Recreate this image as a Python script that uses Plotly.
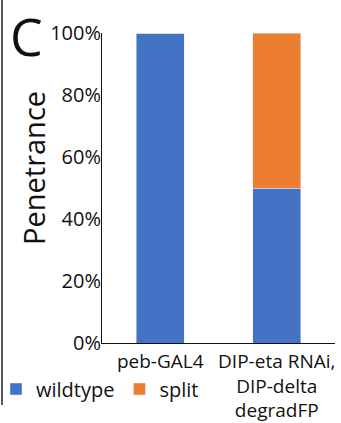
import plotly.graph_objects as go

categories = ["peb-GAL4", "DIP-eta RNAi,<br>DIP-delta<br>degradFP"]
wildtype = [100, 50]
split = [0, 50]
y_ticks = [0, 20, 40, 60, 80, 100]
y_tick_labels = ["0%", "20%", "40%", "60%", "80%", "100%"]

FONT = "Open Sans"
L, R, T, B = 102, 6, 33, 80
W, H = 341, 423
PW, PH = W - L - R, H - T - B


def px_x(x):
    return (x - L) / PW


def px_y(y):
    return (H - B - y) / PH


fig = go.Figure()
fig.add_bar(x=categories, y=wildtype, name="wildtype", marker_color="#4472C4", width=0.41)
fig.add_bar(x=categories, y=split, name="split", marker_color="#ED7D31", width=0.41)

fig.update_layout(
    width=W, height=H,
    barmode="stack",
    margin=dict(l=L, r=R, t=T, b=B, autoexpand=False),
    paper_bgcolor="white", plot_bgcolor="white",
    font=dict(family=FONT, size=18, color="#111"),
    showlegend=True,
    legend=dict(orientation="h", x=px_x(-4), xanchor="left", y=px_y(389), yanchor="middle",
                font=dict(size=20), traceorder="normal", itemwidth=30, tracegroupgap=0,
                bgcolor="rgba(0,0,0,0)"),
    xaxis=dict(showline=True, linecolor="#111", linewidth=1, ticks="",
               tickfont=dict(size=19), range=[-0.5, 1.5], automargin=False,
               ticklabelstandoff=1),
    yaxis=dict(range=[0, 100], tickvals=y_ticks, ticktext=y_tick_labels,
               showline=True, linecolor="#111", linewidth=1, ticks="",
               showgrid=False, tickfont=dict(size=20), automargin=False,
               ticklabelstandoff=-4),
    annotations=[
        dict(text="C", xref="paper", yref="paper", x=px_x(26), y=px_y(36),
             xanchor="center", yanchor="middle", showarrow=False,
             font=dict(size=52, family=FONT)),
        dict(text="Penetrance", xref="paper", yref="paper", x=px_x(34), y=px_y(168),
             xanchor="center", yanchor="middle", textangle=-90, showarrow=False,
             font=dict(size=29, family=FONT)),
    ],
    shapes=[dict(type="line", xref="paper", yref="paper", x0=px_x(2), x1=px_x(2),
                 y0=px_y(405), y1=px_y(0), line=dict(color="#222", width=1.5))],
)
fig.write_html("out.html", config={"displayModeBar": False},
               post_script="document.body.style.margin='0px';")
